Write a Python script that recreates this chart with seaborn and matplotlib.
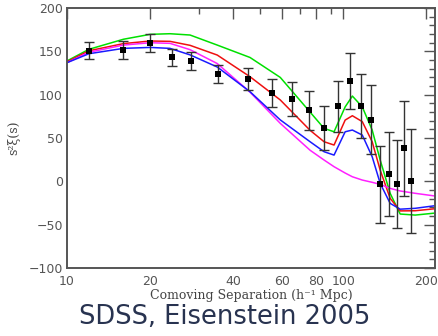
import numpy as np
import pandas as pd
import matplotlib
matplotlib.use('Agg')
import matplotlib.pyplot as plt
import matplotlib.ticker as mticker
import seaborn as sns

# model curves
x_model = [10, 12.0, 16.0, 20.0, 23.6, 27.9, 35.0, 46.0, 59.2, 75.9, 85.3, 92.7,
           101.7, 108.0, 117.3, 127.4, 136.2, 148.0, 160.9, 182.4, 215]
green = [139, 152.4, 164, 169.7, 170.4, 168.9, 157.3, 143, 120, 80, 61.2, 57.3,
         86, 98.5, 86, 59.3, 24.7, -13.7, -37.6, -38.8, -36.5]
red = [138, 150.7, 159, 162, 161.6, 157, 145.8, 120.8, 94, 59, 45.8, 42,
       70.8, 75.8, 69, 45.8, 13, -19.5, -34, -33.8, -31.5]
magenta = [137, 149, 157.3, 160, 159.3, 152, 136, 103, 67, 36, 24.7, 17,
           9.7, 5.4, 1.6, -1, -3.4, -8, -11, -13.7, -16.8]
blue = [137, 147.3, 153.5, 154.6, 153.5, 146, 132, 103.5, 71, 45.8, 34.3, 30.4,
        57.3, 59.3, 53.5, 28.5, -2.2, -25.3, -32, -31, -28]

# measured points with error bars
x_data = [12.0, 16.0, 20.0, 24.0, 28.1, 35.1, 45.2, 55.3, 65.3, 75.3,
          85.3, 95.7, 105.7, 115.8, 125.9, 136.2, 146.5, 156.6, 166.5, 176.2]
y_data = [150.7, 151.5, 159.6, 143, 138.9, 124, 118, 101.6, 94.7, 82,
          61.2, 86.6, 116, 87, 71.2, -3.4, 8.5, -2.7, 38, 0.8]
y_err = [10, 10.5, 10.5, 10, 10.3, 10, 12.5, 16, 19.5, 22.6,
         25.5, 29, 32.5, 36.5, 40, 44, 48.5, 51, 55, 60]

x_ticks = [10, 20, 40, 60, 80, 100, 200]
x_minor = [30, 50, 70, 90]

sns.set_style('white')

models = pd.DataFrame({
    'x': x_model * 4,
    'y': green + red + magenta + blue,
    'model': ['green'] * len(x_model) + ['red'] * len(x_model)
             + ['magenta'] * len(x_model) + ['blue'] * len(x_model),
})
colors = {'green': '#00e000', 'red': '#ee1010', 'magenta': '#ff20ff', 'blue': '#1a1aff'}

fig = plt.figure(figsize=(4.38, 3.36), dpi=100)
ax = fig.add_axes([0.153, 0.202, 0.840, 0.774])

sns.lineplot(data=models, x='x', y='y', hue='model', palette=colors,
             linewidth=1.1, legend=False, ax=ax, sort=False)
ax.errorbar(x_data, y_data, yerr=y_err, fmt='none', ecolor='#333333',
            elinewidth=1.0, capsize=3.5, capthick=1.0)
sns.scatterplot(x=x_data, y=y_data, marker='s', s=14, color='black',
                edgecolor='black', linewidth=0, ax=ax, zorder=5)

ax.set_xscale('log')
ax.set_xlim(10, 215)
ax.set_ylim(-100, 200)
ax.xaxis.set_major_locator(mticker.FixedLocator(x_ticks))
ax.xaxis.set_major_formatter(mticker.FixedFormatter([str(t) for t in x_ticks]))
ax.xaxis.set_minor_locator(mticker.FixedLocator(x_minor))
ax.xaxis.set_minor_formatter(mticker.NullFormatter())
ax.yaxis.set_major_locator(mticker.MultipleLocator(50))
ax.yaxis.set_minor_locator(mticker.MultipleLocator(10))

gray = '#555555'
ax.tick_params(which='both', direction='in', top=True, right=True,
               color=gray, labelcolor=gray, labelsize=9, width=1)
ax.tick_params(which='major', length=8, pad=3)
ax.tick_params(which='minor', length=4)
ax.tick_params(axis='x', which='major', pad=5)
for s in ax.spines.values():
    s.set_color(gray)
    s.set_linewidth(1.4)

ax.set_xlabel('Comoving Separation (h⁻¹ Mpc)', family='DejaVu Serif',
              fontsize=9, color='#444444', labelpad=1)
ax.set_ylabel('s²ξ(s)', family='DejaVu Serif', fontsize=9,
              color='#444444')
ax.yaxis.set_label_coords(-0.128, 0.5)

fig.text(0.512, 0.035, 'SDSS, Eisenstein 2005', ha='center', va='baseline',
         fontsize=18.5, color='#283350', family='DejaVu Sans')

fig.savefig('out.png', dpi=100)
